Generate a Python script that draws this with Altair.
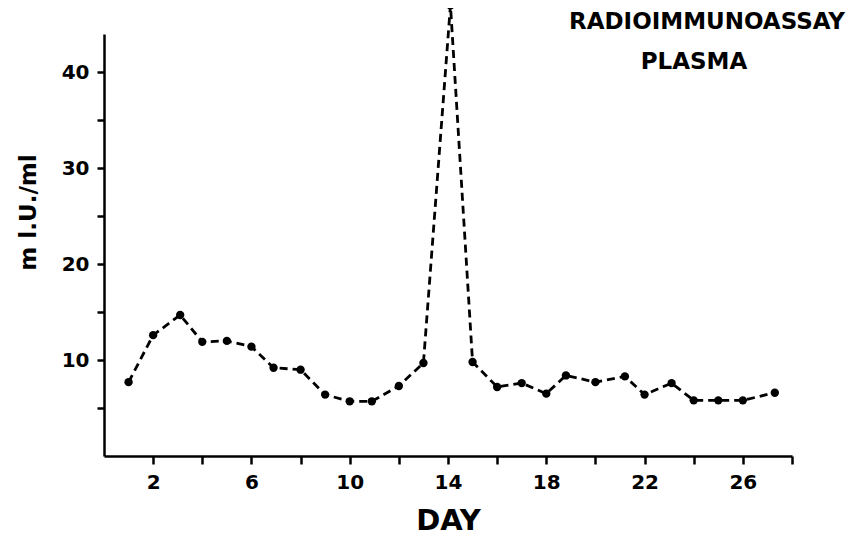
import altair as alt
import pandas as pd

days = [1, 2, 3.1, 4, 5, 6, 6.9, 8, 9, 10, 10.9, 12, 13, 14.1, 15, 16, 17, 18, 18.8,
        20, 21.2, 22, 23.1, 24, 25, 26, 27.3]
values = [7.7, 12.6, 14.7, 11.9, 12.0, 11.4, 9.2, 9.0, 6.4, 5.7, 5.7, 7.3, 9.7, 47.0,
          9.8, 7.2, 7.6, 6.5, 8.4, 7.7, 8.3, 6.4, 7.6, 5.8, 5.8, 5.8, 6.6]
x_ticks = list(range(2, 29, 2))
x_labels = [2, 6, 10, 14, 18, 22, 26]
y_ticks = [5, 10, 15, 20, 25, 30, 35, 40]
y_labels = [10, 20, 30, 40]
title_lines = ["RADIOIMMUNOASSAY", "PLASMA"]

df = pd.DataFrame({"day": days, "value": values})

FONT = "DejaVu Sans"

x_enc = alt.X(
    "day:Q",
    scale=alt.Scale(domain=[0, 28], nice=False, zero=False),
    axis=alt.Axis(
        values=x_ticks,
        labelExpr="indexof([" + ",".join(str(v) for v in x_labels) + "], datum.value) >= 0 ? datum.label : ''",
        title="DAY",
        titleFontSize=29,
        titleFont=FONT,
        titleFontWeight="bold",
        titlePadding=14,
        labelFontSize=20,
        labelFont=FONT,
        labelFontWeight="bold",
        labelPadding=8,
        tickSize=8,
        tickWidth=2.5,
        domainWidth=2.5,
        domainColor="black",
        tickColor="black",
        labelColor="black",
        titleColor="black",
        grid=False,
    ),
)
y_enc = alt.Y(
    "value:Q",
    scale=alt.Scale(domain=[0, 44], nice=False),
    axis=alt.Axis(
        values=y_ticks,
        labelExpr="indexof([" + ",".join(str(v) for v in y_labels) + "], datum.value) >= 0 ? datum.label : ''",
        title="m l.U./ml",
        titleFontSize=23,
        titleFont=FONT,
        titleFontWeight="bold",
        titleX=-76,
        titleY=178,
        titleAlign="center",
        titleBaseline="middle",
        labelFontSize=20,
        labelFont=FONT,
        labelFontWeight="bold",
        labelPadding=8,
        tickSize=7,
        tickWidth=2.5,
        domainWidth=2.5,
        domainColor="black",
        tickColor="black",
        labelColor="black",
        titleColor="black",
        grid=False,
    ),
)

base = alt.Chart(df)
line = base.mark_line(color="black", strokeWidth=2.8, strokeDash=[8, 5], clip=False).encode(x=x_enc, y=y_enc)
pts = base.mark_point(filled=True, color="black", opacity=1, size=70, clip=False).encode(x="day:Q", y="value:Q")

tdf = pd.DataFrame({"t": title_lines, "row": [0, 1]})
t1 = alt.Chart(tdf).transform_filter("datum.row == 0").mark_text(
    font=FONT, fontWeight="bold", fontSize=23, color="black", align="center", baseline="middle"
).encode(text="t:N", x=alt.value(603), y=alt.value(-12))
t2 = alt.Chart(tdf).transform_filter("datum.row == 1").mark_text(
    font=FONT, fontWeight="bold", fontSize=23, color="black", align="center", baseline="middle"
).encode(text="t:N", x=alt.value(590), y=alt.value(28))

chart = alt.layer(line, pts, t1, t2).properties(
    width=688,
    height=422,
    autosize=alt.AutoSizeParams(type="none"),
    padding={"left": 96, "top": 26, "right": 62, "bottom": 90},
    background="white",
).configure_view(stroke=None)

chart.save("out.html", embed_options={"renderer": "svg", "actions": False})
